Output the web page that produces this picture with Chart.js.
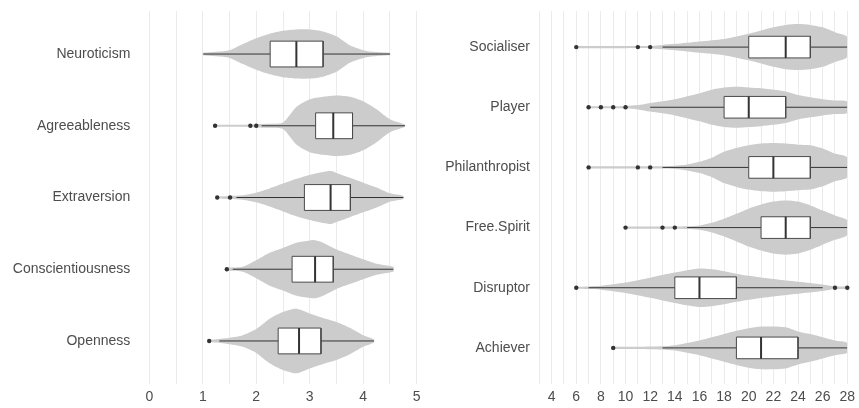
<!DOCTYPE html>
<html>
<head>
<meta charset="utf-8">
<script src="https://cdn.jsdelivr.net/npm/chart.js@4/dist/chart.umd.min.js"></script>
<style>
  html, body { margin: 0; padding: 0; background: #ffffff; }
  #wrap { position: relative; width: 859px; height: 408px; }
  #traits { position: absolute; left: 0; top: 0; }
  #gamers { position: absolute; left: 430px; top: 0; }
</style>
</head>
<body>
<div id="wrap">
  <canvas id="traits" width="430" height="408"></canvas>
  <canvas id="gamers" width="429" height="408"></canvas>
</div>
<script>
// ---- Big Five personality traits (top to bottom) ----
const traitNames = ['Neuroticism', 'Agreeableness', 'Extraversion', 'Conscientiousness', 'Openness'];
const traitLow    = [1.01, 2.10, 1.63, 1.56, 1.31];
const traitQ1     = [2.26, 3.11, 2.90, 2.67, 2.41];
const traitMedian = [2.75, 3.44, 3.39, 3.10, 2.80];
const traitQ3     = [3.25, 3.80, 3.76, 3.44, 3.21];
const traitHigh   = [4.50, 4.78, 4.75, 4.56, 4.20];
const traitOutliers = [[], [1.23, 1.89, 2.00], [1.27, 1.51], [1.45], [1.12]];
// kernel density (relative, 100 = widest violin) sampled along each score
const traitDensityX = [
  [1.0, 1.25, 1.5, 1.75, 2.0, 2.25, 2.5, 2.75, 3.0, 3.25, 3.5, 3.75, 4.0, 4.25, 4.5],
  [1.23, 1.5, 1.75, 2.0, 2.25, 2.5, 2.75, 3.0, 3.25, 3.5, 3.75, 4.0, 4.25, 4.5, 4.78],
  [1.27, 1.5, 1.75, 2.0, 2.25, 2.5, 2.75, 3.0, 3.25, 3.4, 3.5, 3.75, 4.0, 4.25, 4.5, 4.75],
  [1.45, 1.5, 1.75, 2.0, 2.25, 2.5, 2.75, 3.0, 3.1, 3.25, 3.5, 3.75, 4.0, 4.25, 4.5, 4.57],
  [1.12, 1.25, 1.5, 1.75, 2.0, 2.25, 2.5, 2.75, 3.0, 3.25, 3.5, 3.75, 4.0, 4.2]
];
const traitDensity = [
  [4, 7, 12, 31, 49, 63, 72, 76, 76, 70, 55, 27, 12, 6, 3],
  [3, 3, 3, 5, 6, 10, 58, 82, 90, 94, 90, 76, 51, 20, 3],
  [3, 5, 7, 15, 28, 43, 58, 70, 79, 82, 76, 61, 46, 31, 13, 5],
  [3, 5, 8, 28, 51, 66, 82, 89, 90, 82, 61, 46, 31, 17, 10, 6],
  [3, 5, 10, 18, 37, 69, 90, 100, 85, 71, 59, 41, 18, 5]
];
const traitTicks = [0, 1, 2, 3, 4, 5];

// ---- Gamer types (top to bottom) ----
const gamerNames = ['Socialiser', 'Player', 'Philanthropist', 'Free.Spirit', 'Disruptor', 'Achiever'];
const gamerLow    = [13, 12, 13, 15, 7, 13];
const gamerQ1     = [20, 18, 20, 21, 14, 19];
const gamerMedian = [23, 20, 22, 23, 16, 21];
const gamerQ3     = [25, 23, 25, 25, 19, 24];
const gamerHigh   = [28, 28, 28, 28, 26, 28];
const gamerOutliers = [[6, 11, 12], [7, 8, 9, 10], [7, 11, 12], [10, 13, 14], [6, 27, 28], [9]];
const gamerDensityX = [
  [6, 8, 10, 12, 13, 14, 16, 18, 20, 21, 22, 23, 24, 25, 26, 27, 28],
  [7, 8, 9, 10, 11, 12, 14, 16, 17, 18, 19, 20, 21, 22, 23, 24, 25, 26, 27, 28],
  [7, 9, 11, 12, 13, 14, 15, 16, 17, 18, 19, 20, 21, 22, 23, 24, 25, 26, 27, 28],
  [10, 12, 14, 15, 16, 17, 18, 19, 20, 21, 22, 23, 24, 25, 26, 27, 28],
  [6, 7, 8, 10, 12, 13, 14, 15, 16, 17, 18, 19, 20, 22, 24, 26, 27, 28],
  [9, 11, 12, 13, 14, 15, 16, 17, 18, 19, 20, 21, 22, 23, 24, 25, 26, 27, 28]
];
const gamerDensity = [
  [4, 4, 4, 4, 8, 12, 21, 30, 49, 61, 73, 82, 85, 82, 73, 55, 37],
  [4, 4, 4, 5, 8, 16, 30, 52, 65, 73, 76, 73, 70, 65, 58, 45, 37, 30, 25, 21],
  [4, 4, 4, 4, 4, 6, 11, 21, 36, 58, 72, 82, 88, 90, 88, 84, 82, 70, 51, 36],
  [4, 4, 4, 5, 8, 18, 33, 51, 70, 85, 96, 100, 96, 82, 63, 45, 27],
  [4, 5, 7, 19, 37, 47, 56, 65, 71, 68, 61, 52, 44, 32, 22, 12, 5, 4],
  [4, 4, 5, 6, 10, 18, 27, 39, 51, 63, 73, 79, 79, 76, 61, 51, 39, 27, 18]
];
const gamerTicks = [4, 6, 8, 10, 12, 14, 16, 18, 20, 22, 24, 26, 28];

// ---- drawing helpers ----
const VIOLIN_HALF = 0.45;   // half-width of the widest violin, in category units
const BOX_HALF = 0.18;      // half-height of the box
const TEXT = '#4d4d4d';
const FONT = { family: "'Liberation Sans', Arial, sans-serif", size: 14 };

function buildDatasets(names, low, q1, med, q3, high, outliers, dX, dY) {
  const sets = [];
  names.forEach((name, i) => {
    const top = dX[i].map((x, k) => ({ x, y: i - VIOLIN_HALF * dY[i][k] / 100 }));
    const bottom = dX[i].map((x, k) => ({ x, y: i + VIOLIN_HALF * dY[i][k] / 100 })).reverse();
    sets.push({
      type: 'line', label: name + ' density', data: top.concat(bottom),
      fill: 'shape', backgroundColor: '#cccccc', borderWidth: 0, borderColor: 'rgba(0,0,0,0)',
      pointRadius: 0, tension: 0.25, order: 5
    });
    sets.push({
      type: 'line', label: name + ' whiskers',
      data: [{ x: low[i], y: i }, { x: high[i], y: i }],
      borderColor: '#333333', borderWidth: 1, pointRadius: 0, fill: false, order: 4
    });
    sets.push({
      type: 'line', label: name + ' box',
      data: [
        { x: q1[i], y: i - BOX_HALF }, { x: q3[i], y: i - BOX_HALF },
        { x: q3[i], y: i + BOX_HALF }, { x: q1[i], y: i + BOX_HALF },
        { x: q1[i], y: i - BOX_HALF }
      ],
      fill: 'shape', backgroundColor: '#ffffff', borderColor: '#4a4a4a', borderWidth: 1,
      pointRadius: 0, tension: 0, order: 3
    });
    sets.push({
      type: 'line', label: name + ' median',
      data: [{ x: med[i], y: i - BOX_HALF }, { x: med[i], y: i + BOX_HALF }],
      borderColor: '#333333', borderWidth: 2, pointRadius: 0, fill: false, order: 2
    });
  });
  const pts = [];
  outliers.forEach((list, i) => list.forEach(v => pts.push({ x: v, y: i })));
  sets.push({
    type: 'scatter', label: 'outliers', data: pts,
    pointRadius: 2.2, pointBackgroundColor: '#333333', pointBorderWidth: 0,
    clip: false, order: 1
  });
  return sets;
}

function makeChart(canvasId, names, sets, xMin, xMax, step, labelTicks, axisWidth, padRight, labelPad) {
  return new Chart(document.getElementById(canvasId), {
    type: 'scatter',
    data: { datasets: sets },
    options: {
      responsive: false,
      animation: false,
      devicePixelRatio: 1,
      layout: { autoPadding: false, padding: { top: 11, right: padRight, left: 0, bottom: 0 } },
      plugins: { legend: { display: false }, tooltip: { enabled: false } },
      scales: {
        x: {
          type: 'linear', min: xMin, max: xMax,
          afterBuildTicks: axis => {
            const t = [];
            for (let v = xMin; v <= xMax + 1e-9; v += step) t.push({ value: Math.round(v * 100) / 100 });
            axis.ticks = t;
          },
          afterFit: axis => {
            axis.height = 24;
            axis.paddingLeft = 0; axis.paddingRight = 0;
          },
          ticks: {
            autoSkip: false, maxRotation: 0, padding: 5, color: TEXT, font: FONT,
            callback: v => (labelTicks.includes(v) ? String(v) : '')
          },
          grid: { color: '#ebebeb', lineWidth: 1, drawTicks: false },
          border: { display: false }
        },
        y: {
          type: 'linear', reverse: true, min: -0.6, max: names.length - 0.4,
          afterBuildTicks: axis => { axis.ticks = names.map((n, i) => ({ value: i })); },
          afterFit: axis => {
            axis.width = axisWidth;
            axis.paddingTop = 0; axis.paddingBottom = 0;
          },
          ticks: {
            autoSkip: false, padding: labelPad, color: TEXT, font: FONT,
            callback: v => names[v]
          },
          grid: { display: false, drawTicks: false },
          border: { display: false }
        }
      }
    }
  });
}

makeChart('traits', traitNames,
  buildDatasets(traitNames, traitLow, traitQ1, traitMedian, traitQ3, traitHigh, traitOutliers, traitDensityX, traitDensity),
  0, 5, 0.5, traitTicks, 149.3, 13.3, 19);

makeChart('gamers', gamerNames,
  buildDatasets(gamerNames, gamerLow, gamerQ1, gamerMedian, gamerQ3, gamerHigh, gamerOutliers, gamerDensityX, gamerDensity),
  3, 28, 1, gamerTicks, 109.3, 11.7, 9.3);
</script>
</body>
</html>
